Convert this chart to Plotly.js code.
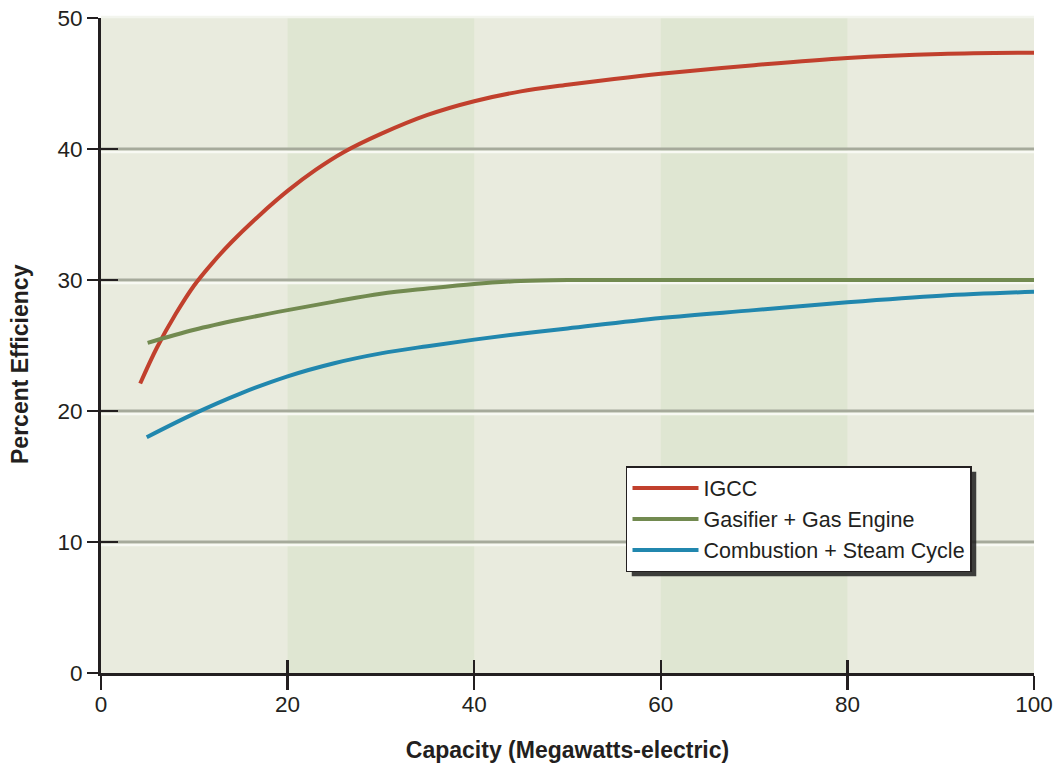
<!DOCTYPE html>
<html>
<head>
<meta charset="utf-8">
<script src="https://cdn.plot.ly/plotly-3.0.1.min.js"></script>
<style>
  html, body { margin: 0; padding: 0; background: #ffffff; }
  #chart { width: 1055px; height: 763px; }
</style>
</head>
<body>
<div id="chart"></div>
<script>
// ---- data ----
const seriesNames = ["IGCC", "Gasifier + Gas Engine", "Combustion + Steam Cycle"];

const igccX = [4.2, 6, 8, 10, 12, 14, 17, 20, 23, 26, 30, 35, 40, 45, 50, 55, 60, 70, 80, 90, 100];
const igccY = [22.1, 24.85, 27.4, 29.6, 31.35, 32.9, 34.95, 36.8, 38.4, 39.75, 41.15, 42.6, 43.65, 44.4, 44.9, 45.35, 45.75, 46.4, 46.95, 47.25, 47.35];

const gasX = [5, 10, 15, 20, 25, 30, 35, 40, 45, 50, 60, 70, 80, 90, 100];
const gasY = [25.2, 26.2, 27.0, 27.7, 28.35, 28.95, 29.35, 29.7, 29.92, 30.0, 30.0, 30.0, 30.0, 30.0, 30.0];

const combX = [4.9, 10, 15, 20, 25, 30, 35, 40, 45, 50, 60, 70, 80, 90, 100];
const combY = [18.0, 19.8, 21.35, 22.65, 23.65, 24.4, 24.95, 25.45, 25.9, 26.3, 27.1, 27.7, 28.3, 28.8, 29.1];

const xTicks = [0, 20, 40, 60, 80, 100];
const yTicks = [0, 10, 20, 30, 40, 50];
const gridVals = [10, 20, 30, 40];
const bandRanges = [[20, 40], [60, 80]];
const xTitle = "Capacity (Megawatts-electric)";
const yTitle = "Percent Efficiency";

const colors = ["#c1402d", "#728a50", "#2187ae"];
const FONT = '"Liberation Sans", Arial, Helvetica, sans-serif';
const INK = "#231f20";

const traces = [
  { x: igccX, y: igccY, name: seriesNames[0] },
  { x: gasX, y: gasY, name: seriesNames[1] },
  { x: combX, y: combY, name: seriesNames[2] }
].map((t, i) => Object.assign(t, {
  type: "scatter", mode: "lines",
  line: { color: colors[i], width: 4, shape: "spline", smoothing: 1 },
  hoverinfo: "skip"
}));
// empty trace so the overlay axes (inner tick halves) get drawn
traces.push({ type: "scatter", x: [null], y: [null], xaxis: "x2", yaxis: "y2",
  showlegend: false, hoverinfo: "skip", mode: "lines" });

const shapes = [];
bandRanges.forEach(b => shapes.push({
  type: "rect", xref: "x", yref: "paper", x0: b[0], x1: b[1], y0: 0, y1: 1,
  fillcolor: "#dfe6d2", line: { width: 0 }, layer: "below"
}));
// light strip along the top edge of the plot area
shapes.push({
  type: "line", xref: "paper", yref: "paper", ysizemode: "pixel", yanchor: 1,
  x0: 0, x1: 1, y0: 1, y1: 1,
  line: { color: "#f3f5ee", width: 2.5 }, layer: "below"
});
gridVals.forEach(v => {
  shapes.push({
    type: "line", xref: "paper", yref: "y", x0: 0, x1: 1, y0: v, y1: v,
    line: { color: "#a6aa9b", width: 3 }, layer: "below"
  });
  shapes.push({
    type: "line", xref: "paper", yref: "y", ysizemode: "pixel", yanchor: v,
    x0: 0, x1: 1, y0: -3, y1: -3,
    line: { color: "#f8f9f3", width: 2.5 }, layer: "below"
  });
});

const axisCommon = {
  showgrid: false, zeroline: false,
  tickfont: { family: FONT, size: 22.5, color: INK },
  tickcolor: INK, tickwidth: 2.5
};

const layout = {
  width: 1055, height: 763,
  margin: { l: 101, r: 21, t: 18, b: 90 },
  paper_bgcolor: "#ffffff",
  plot_bgcolor: "#e9ebde",
  font: { family: FONT, color: INK },
  showlegend: true,
  legend: {
    x: 0.5627, y: 0.316, xanchor: "left", yanchor: "top",
    bgcolor: "#ffffff", bordercolor: INK, borderwidth: 1.5,
    font: { family: FONT, size: 21.5, color: INK },
    itemwidth: 66
  },
  xaxis: Object.assign({}, axisCommon, {
    range: [0, 100], tickvals: xTicks, ticktext: xTicks.map(String),
    ticks: "outside", ticklen: 14,
    showline: true, linecolor: INK, linewidth: 3,
    ticklabelstandoff: -5,
    title: { text: "<b>" + xTitle + "</b>", font: { family: FONT, size: 23, color: INK }, standoff: 28 },
    automargin: false
  }),
  yaxis: Object.assign({}, axisCommon, {
    range: [0, 50], tickvals: yTicks, ticktext: yTicks.map(String),
    ticks: "outside", ticklen: 11,
    showline: true, linecolor: INK, linewidth: 3,
    automargin: false
  }),
  xaxis2: Object.assign({}, axisCommon, {
    overlaying: "x", anchor: "y", side: "bottom",
    range: [0, 100], tickvals: xTicks, showticklabels: false,
    ticks: "inside", ticklen: 13, showline: false
  }),
  yaxis2: Object.assign({}, axisCommon, {
    overlaying: "y", anchor: "x", side: "left",
    range: [0, 50], tickvals: yTicks, showticklabels: false,
    ticks: "inside", ticklen: 17, showline: false
  }),
  annotations: [{
    text: "<b>" + yTitle + "</b>", textangle: -90, showarrow: false,
    xref: "paper", yref: "paper", x: -0.0868, y: 0.4718,
    xanchor: "center", yanchor: "middle",
    font: { family: FONT, size: 23, color: INK }
  }],
  shapes: shapes
};

const gd = document.getElementById("chart");
Plotly.newPlot(gd, traces, layout, { displayModeBar: false, staticPlot: true }).then(() => {
  const bg = gd.querySelector(".legend .bg");
  if (!bg) return;
  const r = bg.getBoundingClientRect();
  const g = gd.getBoundingClientRect();
  const L = 101, T = 18, W = 933, H = 655, off = 5;
  const left = r.left - g.left + off, right = r.right - g.left + off;
  const top = r.top - g.top + off, bottom = r.bottom - g.top + off;
  const shadow = {
    type: "rect", xref: "paper", yref: "paper",
    x0: (left - L) / W, x1: (right - L) / W,
    y0: 1 - (bottom - T) / H, y1: 1 - (top - T) / H,
    fillcolor: "rgba(30,30,30,0.85)", line: { width: 0 }, layer: "above"
  };
  return Plotly.relayout(gd, { shapes: shapes.concat([shadow]) });
});
</script>
</body>
</html>
